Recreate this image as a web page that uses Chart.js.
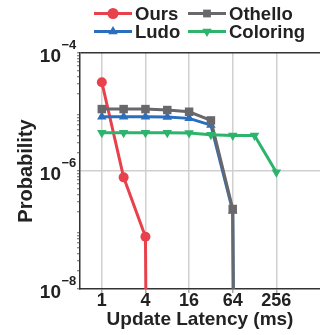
<!DOCTYPE html>
<html lang="en">
<head>
<meta charset="UTF-8">
<title>Probability vs Update Latency</title>
<script src="https://cdn.jsdelivr.net/npm/chart.js"></script>
<style>
  html, body { margin: 0; padding: 0; background: #fff; }
  #wrap { width: 320px; height: 335px; }
</style>
</head>
<body>
<div id="wrap"><canvas id="latencyChart" width="320" height="335"></canvas></div>
<script>
// latency (ms) for each measured point
const latency = [1, 2, 4, 8, 16, 32, 64, 128, 256];
// 0 means the probability fell to zero (line drops off the bottom)
const ours     = [3.2e-5, 7.8e-7, 7.7e-8, 0, null, null, null, null, null];
const ludo     = [8.3e-6, 8.3e-6, 8.3e-6, 8.2e-6, 7.8e-6, 6.0e-6, 2.1e-7, 0, null];
const othello  = [1.12e-5, 1.12e-5, 1.12e-5, 1.08e-5, 1.01e-5, 7.2e-6, 2.27e-7, 0, null];
const coloring = [4.46e-6, 4.46e-6, 4.46e-6, 4.46e-6, 4.4e-6, 4.13e-6, 4.0e-6, 4.0e-6, 9.5e-7];

const xTicks = [1, 4, 16, 64, 256];
const yMajor = [1e-8, 1e-6, 1e-4];
const yMinorSteps = [2, 3, 4, 5, 6, 7, 8, 9];

const FONT = "'Liberation Sans', Arial, sans-serif";
const FLOOR = 1e-60; // stand-in for zero on a log axis

function toPoints(values) {
    return latency.map((x, i) => ({ x: x, y: values[i] === 0 ? FLOOR : values[i] }));
}

function makeSet(label, values, color, style, radius, rotation, order) {
    return {
        label: label,
        data: toPoints(values),
        borderColor: color,
        backgroundColor: color,
        borderWidth: 3,
        pointStyle: style,
        pointRotation: rotation,
        pointRadius: values.map(v => v === 0 ? 0 : radius),
        pointBorderWidth: 0,
        pointHoverRadius: radius,
        spanGaps: false,
        order: order
    };
}

const series = [
    makeSet('Ours', ours, '#e8414b', 'circle', 5, 0, 4),
    makeSet('Ludo', ludo, '#2a6fbe', 'triangle', 5.5, 0, 3),
    makeSet('Othello', othello, '#68686c', 'rect', 6, 0, 2),
    makeSet('Coloring', coloring, '#2cb36c', 'triangle', 5.5, 180, 1)
];

// legend order as in the figure (two columns)
const legendRows = [['Ours', 'Othello'], ['Ludo', 'Coloring']];

function drawMarker(ctx, style, x, y, r, rot) {
    ctx.beginPath();
    if (style === 'circle') {
        ctx.arc(x, y, r, 0, Math.PI * 2);
    } else if (style === 'rect') {
        const s = r * Math.SQRT1_2;
        ctx.rect(x - s, y - s, 2 * s, 2 * s);
    } else {
        const dir = rot === 180 ? -1 : 1;
        ctx.moveTo(x, y - dir * r);
        ctx.lineTo(x + r * 0.866, y + dir * r * 0.5);
        ctx.lineTo(x - r * 0.866, y + dir * r * 0.5);
        ctx.closePath();
    }
    ctx.fill();
}

const extras = {
    id: 'extras',
    afterDraw(chart) {
        const ctx = chart.ctx;
        ctx.save();
        // legend
        const colX = [94, 188];
        const rowY = [13.5, 31.5];
        ctx.font = 'bold 18.5px ' + FONT;
        ctx.textBaseline = 'middle';
        ctx.textAlign = 'left';
        legendRows.forEach((row, r) => {
            row.forEach((name, c) => {
                const ds = chart.data.datasets.find(d => d.label === name);
                const x0 = colX[c], y = rowY[r];
                ctx.strokeStyle = ds.borderColor;
                ctx.fillStyle = ds.borderColor;
                ctx.lineWidth = 3;
                ctx.beginPath();
                ctx.moveTo(x0, y);
                ctx.lineTo(x0 + 38, y);
                ctx.stroke();
                drawMarker(ctx, ds.pointStyle, x0 + 19, y, 5.5, ds.pointRotation);
                ctx.fillStyle = '#222';
                ctx.fillText(name, x0 + 41, y + 1);
            });
        });
        // y tick labels with superscript exponent
        const ys = chart.scales.y;
        yMajor.forEach(v => {
            const py = ys.getPixelForValue(v);
            const exp = Math.round(Math.log10(v));
            ctx.fillStyle = '#222';
            ctx.font = 'bold 19px ' + FONT;
            ctx.textAlign = 'right';
            ctx.fillText('10', 61, py + 4);
            ctx.font = 'bold 13px ' + FONT;
            ctx.textAlign = 'left';
            ctx.fillText((exp < 0 ? '\u2212' : '') + Math.abs(exp), 61.5, py - 8);
        });
        ctx.restore();
    }
};

new Chart(document.getElementById('latencyChart'), {
    type: 'line',
    data: { datasets: series },
    plugins: [extras],
    options: {
        responsive: false,
        animation: false,
        layout: { autoPadding: false, padding: { top: 53, left: 0, right: 0, bottom: 0 } },
        plugins: {
            legend: { display: false },
            tooltip: { enabled: false }
        },
        scales: {
            x: {
                type: 'logarithmic',
                min: 0.5,
                max: 1024,
                afterBuildTicks: s => { s.ticks = xTicks.map(v => ({ value: v })); },
                afterFit: s => { s.height = 46; s.paddingLeft = 0; s.paddingRight = 0; },
                border: { color: '#333', width: 1.5 },
                grid: { color: '#d0d0d0', lineWidth: 1.5, tickLength: 4, tickColor: '#aaa' },
                ticks: {
                    autoSkip: false,
                    maxRotation: 0,
                    padding: -3,
                    color: '#222',
                    font: { family: FONT, size: 18, weight: 'bold' },
                    callback: v => String(v)
                },
                title: {
                    display: true,
                    text: 'Update Latency (ms)',
                    color: '#222',
                    font: { family: FONT, size: 19, weight: 'bold' },
                    padding: { top: 0, bottom: 4 }
                }
            },
            y: {
                type: 'logarithmic',
                min: 1e-8,
                max: 1e-4,
                afterBuildTicks: s => {
                    const t = [];
                    yMajor.forEach((m, i) => {
                        t.push({ value: m });
                        if (i < yMajor.length - 1) {
                            let d = m;
                            while (d * 10 <= yMajor[i + 1]) {
                                yMinorSteps.forEach(k => t.push({ value: d * k }));
                                d *= 10;
                            }
                        }
                    });
                    s.ticks = t.sort((a, b) => a.value - b.value);
                },
                afterFit: s => { s.width = 80; s.paddingTop = 0; s.paddingBottom = 0; },
                border: { color: '#333', width: 1.5 },
                grid: {
                    color: c => {
                        const v = c.tick && c.tick.value;
                        if (v === 1e-6) return '#d0d0d0';
                        if (v === 1e-4) return '#333';
                        return 'rgba(0,0,0,0)';
                    },
                    lineWidth: 1.5,
                    tickLength: 3,
                    tickColor: '#666',
                    tickWidth: 1
                },
                ticks: { display: false, autoSkip: false },
                title: {
                    display: true,
                    text: 'Probability',
                    color: '#222',
                    font: { family: FONT, size: 20, weight: 'bold' },
                    padding: { top: 14, bottom: 0 }
                }
            }
        }
    }
});
</script>
</body>
</html>
